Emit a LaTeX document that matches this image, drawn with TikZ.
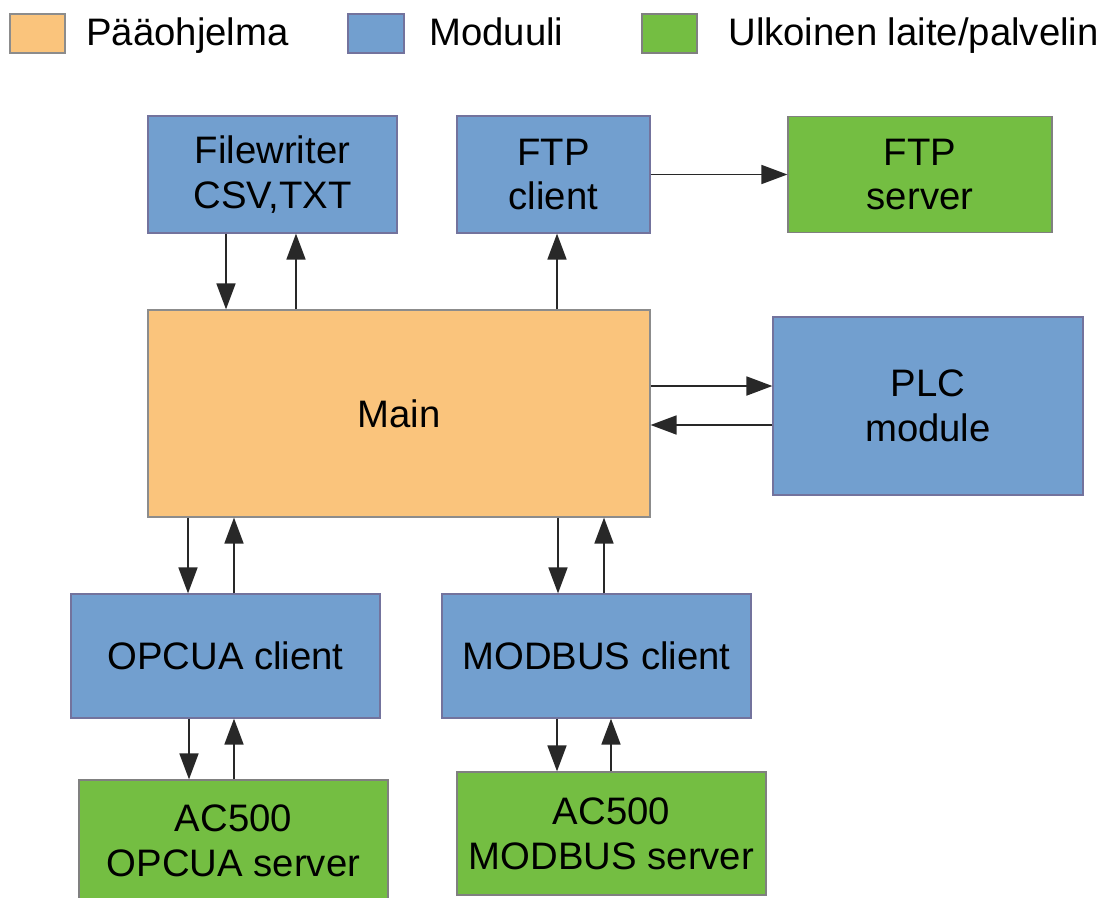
\documentclass[tikz,border=0pt]{standalone}
\usepackage{fontspec}
\setmainfont{Liberation Sans}
\usetikzlibrary{arrows.meta,calc}
\definecolor{orfill}{RGB}{250,196,124}
\definecolor{blfill}{RGB}{114,159,207}
\definecolor{grfill}{RGB}{116,190,66}
\definecolor{lncol}{RGB}{40,40,40}
\tikzset{
  box/.style={draw=#1, line width=0.7pt, inner sep=0pt, align=center,
    font=\fontsize{21.8}{25.5}\selectfont, text=black},
  mainbox/.style={box=black!45, fill=orfill},
  modbox/.style={box=blue!30!black!55, fill=blfill},
  extbox/.style={box=black!50, fill=grfill},
  arr/.style={draw=lncol, line width=1pt, -{Triangle[length=0.52cm,width=0.38cm]}},
  legtext/.style={anchor=base west, inner sep=0pt, font=\fontsize{21.8}{24}\selectfont}
}
\begin{document}
\begin{tikzpicture}[x=0.02cm,y=-0.02cm]
\useasboundingbox (0,0) rectangle (1103,897);
% legend
\node[mainbox, minimum width=1.1cm, minimum height=0.78cm] (l1) at (37.5,33.5) {};
\node[legtext] (l1t) at (86,45.5) {Pääohjelma};
\node[modbox, minimum width=1.12cm, minimum height=0.78cm] (l2) at (376,33.5) {};
\node[legtext] (l2t) at (429,45.5) {Moduuli};
\node[extbox, minimum width=1.1cm, minimum height=0.78cm] (l3) at (669.5,33.5) {};
\node[legtext] (l3t) at (728,45.5) {Ulkoinen laite/palvelin};
% boxes
\node[modbox, minimum width=4.98cm, minimum height=2.34cm] (fw) at (272.5,174.5) {Filewriter\\CSV,TXT};
\node[modbox, minimum width=3.86cm, minimum height=2.34cm] (ftpc) at (553.5,174.5) {FTP\\client};
\node[extbox, minimum width=5.28cm, minimum height=2.32cm] (ftps) at (920,174.5) {FTP\\server};
\node[mainbox, minimum width=10.04cm, minimum height=4.14cm] (main) at (399,413.5) {Main};
\node[modbox, minimum width=6.2cm, minimum height=3.56cm] (plc) at (928,406) {PLC\\module};
\node[modbox, minimum width=6.18cm, minimum height=2.48cm] (opc) at (225.5,656) {OPCUA client};
\node[modbox, minimum width=6.18cm, minimum height=2.48cm] (mbc) at (596.5,656) {MODBUS client};
\node[extbox, minimum width=6.18cm, minimum height=2.44cm, text depth=0pt] (opcs) at (233.5,841) {AC500\\OPCUA server};
\node[extbox, minimum width=6.18cm, minimum height=2.46cm] (mbs) at (611.5,833.5) {AC500\\MODBUS server};
% connectors
\draw[arr] ([xshift=-0.93cm]fw.south) -- ([xshift=-0.93cm]fw.south |- main.north);
\draw[arr] ([xshift=0.47cm]fw.south |- main.north) -- ([xshift=0.47cm]fw.south);
\draw[arr] ([xshift=0.07cm]ftpc.south |- main.north) -- ([xshift=0.07cm]ftpc.south);
\draw[arr] (ftpc.east) -- (ftps.west);
\draw[arr] ([yshift=0.55cm]main.east) -- ([yshift=0.55cm]main.east -| plc.west);
\draw[arr] ([yshift=-0.23cm]main.east -| plc.west) -- ([yshift=-0.23cm]main.east);
\draw[arr] ([xshift=-0.75cm]opc.north |- main.south) -- ([xshift=-0.75cm]opc.north);
\draw[arr] ([xshift=0.17cm]opc.north) -- ([xshift=0.17cm]opc.north |- main.south);
\draw[arr] ([xshift=-0.77cm]mbc.north |- main.south) -- ([xshift=-0.77cm]mbc.north);
\draw[arr] ([xshift=0.15cm]mbc.north) -- ([xshift=0.15cm]mbc.north |- main.south);
\draw[arr] ([xshift=-0.73cm]opc.south) -- ([xshift=-0.73cm]opc.south |- opcs.north);
\draw[arr] ([xshift=0.17cm]opc.south |- opcs.north) -- ([xshift=0.17cm]opc.south);
\draw[arr] ([xshift=-0.79cm]mbc.south) -- ([xshift=-0.79cm]mbc.south |- mbs.north);
\draw[arr] ([xshift=0.29cm]mbc.south |- mbs.north) -- ([xshift=0.29cm]mbc.south);
\end{tikzpicture}
\end{document}
